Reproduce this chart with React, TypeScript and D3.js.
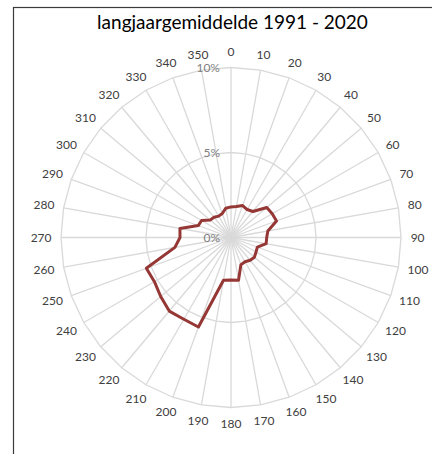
import React, { useEffect, useRef } from 'react';
import * as d3 from 'd3';

const title = 'langjaargemiddelde 1991 - 2020';
const directions = [0, 10, 20, 30, 40, 50, 60, 70, 80, 90, 100, 110, 120, 130, 140, 150, 160, 170,
  180, 190, 200, 210, 220, 230, 240, 250, 260, 270, 280, 290, 300, 310, 320, 330, 340, 350];
// percentage of time per wind direction
const frequency = [1.8, 1.85, 2.0, 1.9, 2.0, 2.75, 2.8, 2.85, 2.2, 2.1, 2.1, 1.65, 1.7, 1.8, 1.75, 1.65, 1.7, 2.55,
  2.5, 2.55, 5.6, 5.55, 5.65, 5.4, 5.2, 5.3, 3.35, 3.0, 3.05, 2.05, 2.0, 1.6, 1.55, 1.45, 1.5, 1.75];
const radialTicks = [0, 5, 10];

const App: React.FC = () => {
  const svgRef = useRef<SVGSVGElement>(null);

  useEffect(() => {
    if (!svgRef.current) return;
    const svg = d3.select(svgRef.current);
    svg.selectAll('*').remove();

    const width = 432;
    const height = 454;
    const cx = 231;
    const cy = 237.5;
    const outer = 170;

    // chart border
    svg.append('rect')
      .attr('x', 13.5)
      .attr('y', 7.5)
      .attr('width', 440)
      .attr('height', 460)
      .attr('fill', 'white')
      .attr('stroke', '#3a3a3a')
      .attr('stroke-width', 1.2);

    svg.append('text')
      .attr('x', 232.5)
      .attr('y', 29)
      .attr('text-anchor', 'middle')
      .style('font-family', 'Lato, Carlito, sans-serif')
      .style('font-size', '19px')
      .style('fill', '#000')
      .text(title);

    const angle = d3.scaleBand<number>()
      .domain(directions)
      .range([0, 2 * Math.PI])
      .align(0)
      .paddingInner(0);
    const a = (d: number) => angle(d) ?? 0;

    const r = d3.scaleLinear().domain([0, 10]).range([0, outer]);

    const g = svg.append('g').attr('transform', `translate(${cx},${cy})`);

    // spokes
    g.selectAll('.spoke')
      .data(directions)
      .enter().append('line')
      .attr('x1', 0)
      .attr('y1', 0)
      .attr('x2', d => Math.sin(a(d)) * outer)
      .attr('y2', d => -Math.cos(a(d)) * outer)
      .attr('stroke', '#d9d9d9')
      .attr('stroke-width', 1.3);

    // rings
    const ringLine = d3.lineRadial<number>()
      .angle(d => a(d))
      .curve(d3.curveLinearClosed);
    radialTicks.filter(t => t > 0).forEach(t => {
      g.append('path')
        .attr('d', ringLine.radius(() => r(t))(directions))
        .attr('fill', 'none')
        .attr('stroke', '#d9d9d9')
        .attr('stroke-width', 1.3);
    });

    // data line
    const dataLine = d3.lineRadial<number>()
      .angle((_, i) => a(directions[i]))
      .radius(d => r(d))
      .curve(d3.curveLinearClosed);
    g.append('path')
      .attr('d', dataLine(frequency))
      .attr('fill', 'none')
      .attr('stroke', '#953735')
      .attr('stroke-width', 3)
      .attr('stroke-linejoin', 'round');

    // radial tick labels
    g.selectAll('.rtick')
      .data(radialTicks)
      .enter().append('text')
      .attr('x', -11)
      .attr('y', d => -r(d))
      .attr('dy', '0.35em')
      .attr('text-anchor', 'end')
      .style('font-family', 'Lato, Carlito, sans-serif')
      .style('font-size', '12px')
      .style('fill', '#7f7f7f')
      .text(d => `${d}%`);

    // direction labels
    const labelR = outer + 10;
    g.selectAll('.dlabel')
      .data(directions)
      .enter().append('text')
      .attr('x', d => Math.sin(a(d)) * labelR + Math.sin(a(d)) * String(d).length * 3.3)
      .attr('y', d => -Math.cos(a(d)) * labelR - Math.cos(a(d)) * 6)
      .attr('dy', '0.35em')
      .attr('text-anchor', 'middle')
      .style('font-family', 'Lato, Carlito, sans-serif')
      .style('font-size', '12px')
      .style('fill', '#404040')
      .text(d => String(d));

    svg.attr('viewBox', `0 0 ${width} ${height}`);
  }, []);

  return (
    <svg
      ref={svgRef}
      width={432}
      height={454}
      style={{ position: 'absolute', left: 0, top: 0, background: 'white' }}
    />
  );
};

export default App;
